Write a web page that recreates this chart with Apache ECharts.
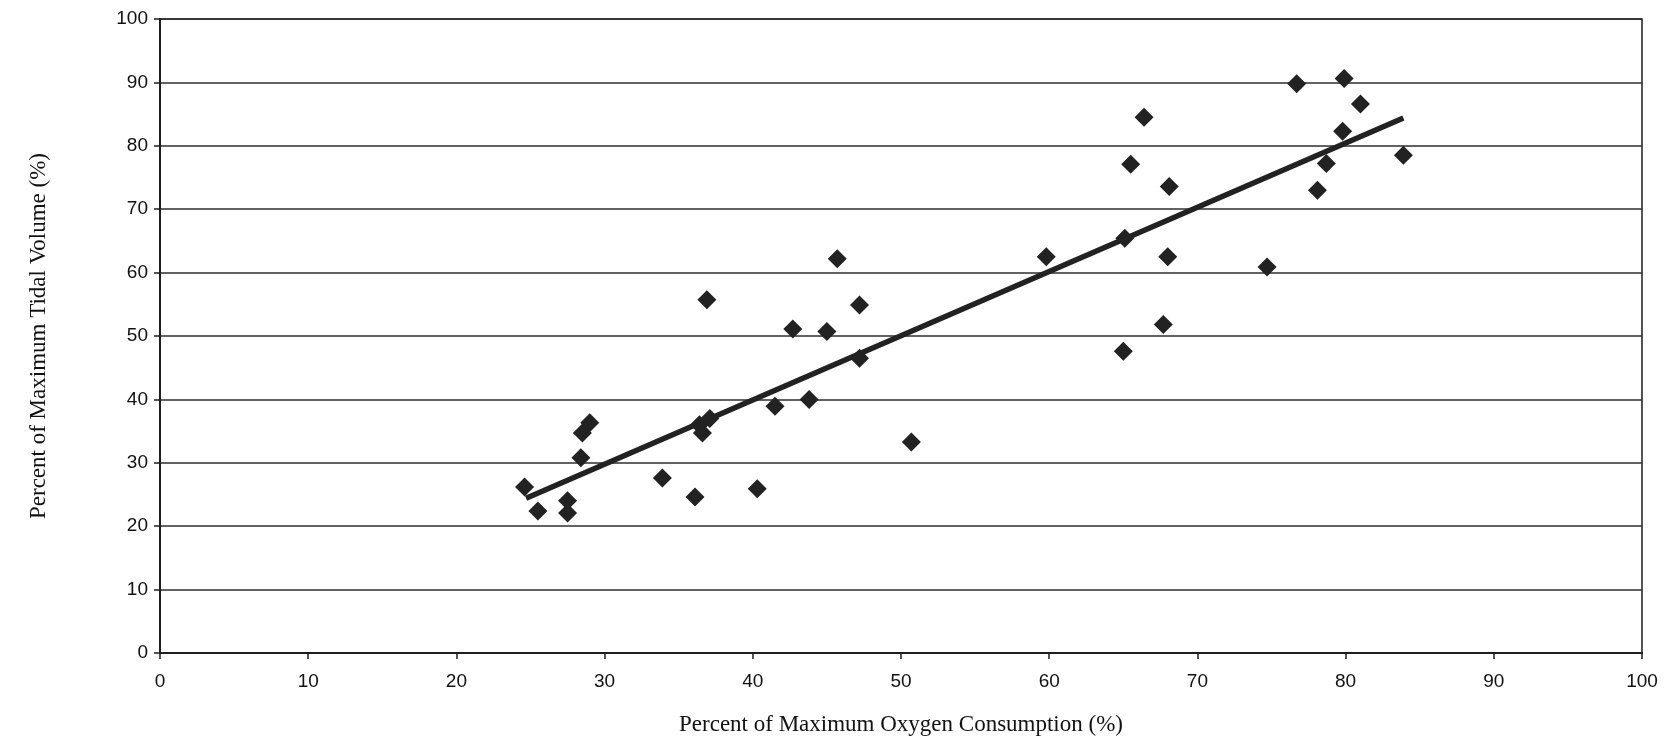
<!DOCTYPE html>
<html>
<head>
<meta charset="utf-8">
<script src="https://cdn.jsdelivr.net/npm/echarts@6/dist/echarts.min.js"></script>
<style>
html,body{margin:0;padding:0;background:#fff;}
#chart{width:1675px;height:739px;}
</style>
</head>
<body>
<div id="chart"></div>
<script>
// Percent of Maximum Oxygen Consumption (%)
const oxygenX = [24.6, 25.5, 27.5, 27.5, 28.4, 28.5, 29.0, 33.9, 36.1, 36.4, 36.6, 37.1, 36.9, 40.3,
  41.5, 42.7, 43.8, 45.0, 45.7, 47.2, 47.2, 50.7,
  59.8, 65.0, 65.1, 65.5, 66.4, 67.7, 68.0, 68.1,
  74.7, 76.7, 78.1, 78.7, 79.8, 79.9, 81.0, 83.9];
// Percent of Maximum Tidal Volume (%)
const tidalY = [26.2, 22.4, 24.0, 22.1, 30.8, 34.7, 36.3, 27.6, 24.6, 36.0, 34.7, 37.0, 55.7, 25.9,
  38.9, 51.1, 40.0, 50.7, 62.2, 54.9, 46.5, 33.3,
  62.5, 47.6, 65.4, 77.1, 84.5, 51.8, 62.5, 73.6,
  60.9, 89.8, 73.0, 77.2, 82.3, 90.6, 86.6, 78.5];
// Trend line endpoints
const trendX = [24.7, 83.9];
const trendY = [24.4, 84.4];
const xTicks = [0, 10, 20, 30, 40, 50, 60, 70, 80, 90, 100];
const yTicks = [0, 10, 20, 30, 40, 50, 60, 70, 80, 90, 100];

const points = oxygenX.map((x, i) => [x, tidalY[i]]);
const trend = trendX.map((x, i) => [x, trendY[i]]);

const chart = echarts.init(document.getElementById('chart'));
const ink = '#1e1e1e';
chart.setOption({
  animation: false,
  backgroundColor: '#ffffff',
  grid: {left: 160, right: 33, top: 19, bottom: 86, show: true, borderColor: ink, borderWidth: 1.5,
    containLabel: false, outerBoundsMode: 'none'},
  xAxis: {
    type: 'value', min: xTicks[0], max: xTicks[xTicks.length - 1], interval: 10,
    name: 'Percent of Maximum Oxygen Consumption (%)', nameLocation: 'middle', nameGap: 60,
    nameTextStyle: {fontFamily: 'Liberation Serif', fontSize: 23, color: '#111'},
    axisLine: {show: true, lineStyle: {color: ink, width: 2}},
    axisTick: {show: true, inside: false, length: 6, lineStyle: {color: ink, width: 1.5}},
    axisLabel: {fontFamily: 'Liberation Sans', fontSize: 19, color: '#111', margin: 19},
    splitLine: {show: false}
  },
  yAxis: {
    type: 'value', min: yTicks[0], max: yTicks[yTicks.length - 1], interval: 10,
    name: 'Percent of Maximum Tidal Volume (%)', nameLocation: 'middle', nameGap: 110,
    nameTextStyle: {fontFamily: 'Liberation Serif', fontSize: 23, color: '#111'},
    axisLine: {show: true, lineStyle: {color: ink, width: 2}},
    axisTick: {show: true, length: 6, lineStyle: {color: ink, width: 1.5}},
    axisLabel: {fontFamily: 'Liberation Sans', fontSize: 19, color: '#111', margin: 12},
    splitLine: {show: true, lineStyle: {color: '#2e2e2e', width: 1.5}}
  },
  series: [
    {
      type: 'scatter', data: points, symbol: 'diamond', symbolSize: 19,
      itemStyle: {color: '#222', opacity: 1}, z: 3
    },
    {
      type: 'line', data: trend, showSymbol: false, symbol: 'none',
      lineStyle: {color: '#222', width: 5.5}, z: 4
    }
  ]
});
</script>
</body>
</html>
